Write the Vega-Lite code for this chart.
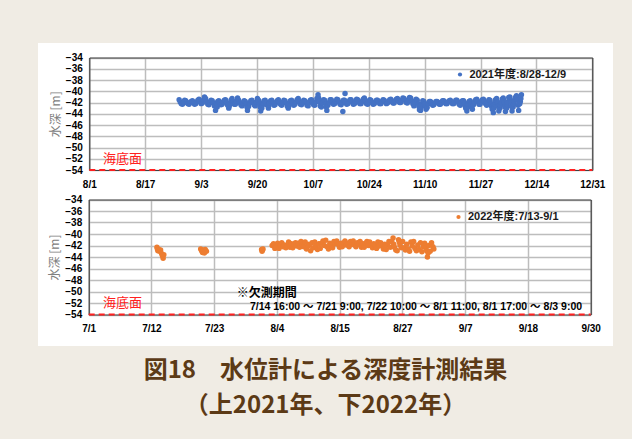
{
  "$schema": "https://vega.github.io/schema/vega-lite/v6.json",
  "background": "#f0ece4",
  "padding": {"left": 38, "top": 43, "right": 19, "bottom": 21},
  "autosize": {"type": "pad"},
  "spacing": 0,
  "bounds": "flush",
  "title": {
    "text": "図18　水位計による深度計測結果",
    "subtitle": "（上2021年、下2022年）",
    "orient": "bottom",
    "anchor": "middle",
    "font": "Noto Sans CJK JP",
    "fontSize": 24,
    "fontWeight": "bold",
    "color": "#5c3a16",
    "subtitleFont": "Noto Sans CJK JP",
    "subtitleFontSize": 24,
    "subtitleFontWeight": "bold",
    "subtitleColor": "#5c3a16",
    "subtitlePadding": 11,
    "offset": 13
  },
  "config": {
    "view": {"stroke": null, "fill": "white"},
    "font": "Liberation Sans, Noto Sans CJK JP",
    "axis": {
      "labelFont": "Liberation Sans",
      "labelFontWeight": "bold",
      "labelFontSize": 10,
      "labelColor": "#000000",
      "ticks": false,
      "gridColor": "#bdbdbd",
      "gridWidth": 1.5,
      "domainColor": "#404040",
      "domainWidth": 1.2,
      "labelOverlap": false,
      "labelFlush": false,
      "labelBound": false
    },
    "legend": {
      "orient": "none",
      "title": null,
      "symbolType": "circle",
      "symbolSize": 18,
      "symbolStrokeWidth": 0,
      "labelFont": "Liberation Sans, Noto Sans CJK JP",
      "labelFontSize": 11,
      "labelFontWeight": "bold",
      "labelColor": "#1a1a1a",
      "labelOffset": 4,
      "padding": 0
    }
  },
  "resolve": {
    "scale": {"x": "independent", "y": "independent", "color": "independent"},
    "legend": {"color": "independent"}
  },
  "datasets": {
    "y2021": [
      {"time":"2021-08-28T04:00","depth":-41.5},{"time":"2021-08-28T12:00","depth":-41.9},{"time":"2021-08-28T20:00","depth":-42.2},
      {"time":"2021-08-29T04:00","depth":-42.3},{"time":"2021-08-29T12:00","depth":-42.0},{"time":"2021-08-29T20:00","depth":-41.6},
      {"time":"2021-08-30T04:00","depth":-41.7},{"time":"2021-08-30T12:00","depth":-42.0},{"time":"2021-08-30T20:00","depth":-42.2},
      {"time":"2021-08-31T04:00","depth":-42.3},{"time":"2021-08-31T12:00","depth":-42.0},{"time":"2021-08-31T20:00","depth":-41.8},
      {"time":"2021-09-01T04:00","depth":-41.7},{"time":"2021-09-01T12:00","depth":-42.0},{"time":"2021-09-01T20:00","depth":-42.3},
      {"time":"2021-09-02T04:00","depth":-42.2},{"time":"2021-09-02T12:00","depth":-41.9},{"time":"2021-09-02T20:00","depth":-41.6},
      {"time":"2021-09-03T04:00","depth":-41.4},{"time":"2021-09-03T12:00","depth":-41.8},{"time":"2021-09-03T20:00","depth":-42.2},
      {"time":"2021-09-04T04:00","depth":-42.1},{"time":"2021-09-04T12:00","depth":-41.6},{"time":"2021-09-04T20:00","depth":-41.0},
      {"time":"2021-09-05T04:00","depth":-41.3},{"time":"2021-09-05T12:00","depth":-41.8},{"time":"2021-09-05T20:00","depth":-42.3},
      {"time":"2021-09-06T04:00","depth":-42.4},{"time":"2021-09-06T12:00","depth":-42.0},{"time":"2021-09-06T20:00","depth":-41.6},
      {"time":"2021-09-07T04:00","depth":-41.7},{"time":"2021-09-07T12:00","depth":-42.1},{"time":"2021-09-07T20:00","depth":-42.6},
      {"time":"2021-09-08T04:00","depth":-43.4},{"time":"2021-09-08T12:00","depth":-42.2},{"time":"2021-09-08T16:00","depth":-42.8},{"time":"2021-09-08T20:00","depth":-41.8},
      {"time":"2021-09-09T04:00","depth":-41.7},{"time":"2021-09-09T12:00","depth":-42.0},{"time":"2021-09-09T20:00","depth":-42.4},
      {"time":"2021-09-10T04:00","depth":-42.3},{"time":"2021-09-10T12:00","depth":-41.9},{"time":"2021-09-10T20:00","depth":-41.6},
      {"time":"2021-09-11T04:00","depth":-41.5},{"time":"2021-09-11T12:00","depth":-42.0},{"time":"2021-09-11T20:00","depth":-42.5},
      {"time":"2021-09-12T04:00","depth":-43.0},{"time":"2021-09-12T08:00","depth":-42.6},{"time":"2021-09-12T12:00","depth":-42.2},{"time":"2021-09-12T20:00","depth":-41.6},
      {"time":"2021-09-13T04:00","depth":-41.3},{"time":"2021-09-13T12:00","depth":-41.8},{"time":"2021-09-13T20:00","depth":-42.3},
      {"time":"2021-09-14T04:00","depth":-42.3},{"time":"2021-09-14T12:00","depth":-41.8},{"time":"2021-09-14T20:00","depth":-41.2},
      {"time":"2021-09-15T04:00","depth":-41.6},{"time":"2021-09-15T12:00","depth":-42.0},{"time":"2021-09-15T20:00","depth":-42.4},
      {"time":"2021-09-16T04:00","depth":-42.6},{"time":"2021-09-16T12:00","depth":-42.1},{"time":"2021-09-16T20:00","depth":-41.7},
      {"time":"2021-09-17T04:00","depth":-41.8},{"time":"2021-09-17T12:00","depth":-42.3},{"time":"2021-09-17T16:00","depth":-42.8},{"time":"2021-09-17T20:00","depth":-43.4},
      {"time":"2021-09-18T04:00","depth":-42.7},{"time":"2021-09-18T12:00","depth":-42.1},{"time":"2021-09-18T20:00","depth":-41.7},
      {"time":"2021-09-19T04:00","depth":-41.6},{"time":"2021-09-19T12:00","depth":-42.0},{"time":"2021-09-19T20:00","depth":-42.4},
      {"time":"2021-09-20T04:00","depth":-42.6},{"time":"2021-09-20T12:00","depth":-41.9},{"time":"2021-09-20T20:00","depth":-41.3},
      {"time":"2021-09-21T04:00","depth":-41.6},{"time":"2021-09-21T12:00","depth":-42.2},{"time":"2021-09-21T16:00","depth":-42.8},{"time":"2021-09-21T20:00","depth":-43.5},
      {"time":"2021-09-22T04:00","depth":-43.0},{"time":"2021-09-22T08:00","depth":-42.5},{"time":"2021-09-22T12:00","depth":-42.1},{"time":"2021-09-22T20:00","depth":-41.7},
      {"time":"2021-09-23T04:00","depth":-41.6},{"time":"2021-09-23T12:00","depth":-42.0},{"time":"2021-09-23T20:00","depth":-42.5},
      {"time":"2021-09-24T04:00","depth":-43.0},{"time":"2021-09-24T08:00","depth":-42.5},{"time":"2021-09-24T12:00","depth":-42.1},{"time":"2021-09-24T20:00","depth":-41.7},
      {"time":"2021-09-25T04:00","depth":-41.6},{"time":"2021-09-25T12:00","depth":-42.0},{"time":"2021-09-25T20:00","depth":-42.5},
      {"time":"2021-09-26T04:00","depth":-42.4},{"time":"2021-09-26T12:00","depth":-42.0},{"time":"2021-09-26T20:00","depth":-41.7},
      {"time":"2021-09-27T04:00","depth":-41.5},{"time":"2021-09-27T12:00","depth":-41.9},{"time":"2021-09-27T20:00","depth":-42.3},
      {"time":"2021-09-28T04:00","depth":-42.5},{"time":"2021-09-28T12:00","depth":-42.0},{"time":"2021-09-28T20:00","depth":-41.6},
      {"time":"2021-09-29T04:00","depth":-41.7},{"time":"2021-09-29T12:00","depth":-42.1},{"time":"2021-09-29T20:00","depth":-42.6},
      {"time":"2021-09-30T04:00","depth":-43.0},{"time":"2021-09-30T08:00","depth":-42.6},{"time":"2021-09-30T12:00","depth":-42.2},{"time":"2021-09-30T20:00","depth":-41.7},
      {"time":"2021-10-01T04:00","depth":-41.6},{"time":"2021-10-01T12:00","depth":-42.0},{"time":"2021-10-01T20:00","depth":-42.5},
      {"time":"2021-10-02T04:00","depth":-42.3},{"time":"2021-10-02T12:00","depth":-41.9},{"time":"2021-10-02T20:00","depth":-41.5},
      {"time":"2021-10-03T04:00","depth":-41.3},{"time":"2021-10-03T12:00","depth":-41.8},{"time":"2021-10-03T20:00","depth":-42.3},
      {"time":"2021-10-04T04:00","depth":-42.4},{"time":"2021-10-04T12:00","depth":-42.0},{"time":"2021-10-04T20:00","depth":-41.6},
      {"time":"2021-10-05T04:00","depth":-41.7},{"time":"2021-10-05T12:00","depth":-42.0},{"time":"2021-10-05T20:00","depth":-42.5},
      {"time":"2021-10-06T04:00","depth":-42.6},{"time":"2021-10-06T12:00","depth":-42.0},{"time":"2021-10-06T20:00","depth":-41.6},
      {"time":"2021-10-07T04:00","depth":-41.5},{"time":"2021-10-07T12:00","depth":-41.9},{"time":"2021-10-07T20:00","depth":-42.4},
      {"time":"2021-10-08T04:00","depth":-42.5},{"time":"2021-10-08T12:00","depth":-41.9},{"time":"2021-10-08T20:00","depth":-41.3},
      {"time":"2021-10-09T04:00","depth":-40.6},{"time":"2021-10-09T08:00","depth":-41.2},{"time":"2021-10-09T12:00","depth":-41.8},{"time":"2021-10-09T20:00","depth":-42.6},
      {"time":"2021-10-10T04:00","depth":-42.8},{"time":"2021-10-10T12:00","depth":-42.1},{"time":"2021-10-10T20:00","depth":-41.5},
      {"time":"2021-10-11T04:00","depth":-41.6},{"time":"2021-10-11T12:00","depth":-42.2},{"time":"2021-10-11T16:00","depth":-42.8},{"time":"2021-10-11T20:00","depth":-43.4},
      {"time":"2021-10-12T04:00","depth":-42.5},{"time":"2021-10-12T12:00","depth":-42.0},{"time":"2021-10-12T20:00","depth":-41.5},
      {"time":"2021-10-13T04:00","depth":-41.5},{"time":"2021-10-13T12:00","depth":-41.9},{"time":"2021-10-13T20:00","depth":-42.3},
      {"time":"2021-10-14T04:00","depth":-42.2},{"time":"2021-10-14T12:00","depth":-41.8},{"time":"2021-10-14T20:00","depth":-41.4},
      {"time":"2021-10-15T04:00","depth":-41.5},{"time":"2021-10-15T12:00","depth":-41.9},{"time":"2021-10-15T20:00","depth":-42.3},
      {"time":"2021-10-16T04:00","depth":-42.4},{"time":"2021-10-16T12:00","depth":-42.0},{"time":"2021-10-16T16:00","depth":-43.6},{"time":"2021-10-16T20:00","depth":-41.6},
      {"time":"2021-10-17T04:00","depth":-41.6},{"time":"2021-10-17T08:00","depth":-40.4},{"time":"2021-10-17T12:00","depth":-41.9},{"time":"2021-10-17T20:00","depth":-42.3},
      {"time":"2021-10-18T04:00","depth":-42.2},{"time":"2021-10-18T12:00","depth":-41.8},{"time":"2021-10-18T20:00","depth":-41.5},
      {"time":"2021-10-19T04:00","depth":-41.5},{"time":"2021-10-19T12:00","depth":-41.9},{"time":"2021-10-19T20:00","depth":-42.3},
      {"time":"2021-10-20T04:00","depth":-42.2},{"time":"2021-10-20T12:00","depth":-41.8},{"time":"2021-10-20T20:00","depth":-41.4},
      {"time":"2021-10-21T04:00","depth":-41.5},{"time":"2021-10-21T12:00","depth":-41.9},{"time":"2021-10-21T20:00","depth":-42.2},
      {"time":"2021-10-22T04:00","depth":-42.2},{"time":"2021-10-22T12:00","depth":-41.8},{"time":"2021-10-22T20:00","depth":-41.4},
      {"time":"2021-10-23T04:00","depth":-41.2},{"time":"2021-10-23T12:00","depth":-41.7},{"time":"2021-10-23T20:00","depth":-42.2},
      {"time":"2021-10-24T04:00","depth":-42.3},{"time":"2021-10-24T12:00","depth":-41.9},{"time":"2021-10-24T20:00","depth":-41.5},
      {"time":"2021-10-25T04:00","depth":-41.6},{"time":"2021-10-25T12:00","depth":-42.0},{"time":"2021-10-25T20:00","depth":-42.3},
      {"time":"2021-10-26T04:00","depth":-42.2},{"time":"2021-10-26T12:00","depth":-41.9},{"time":"2021-10-26T20:00","depth":-41.6},
      {"time":"2021-10-27T04:00","depth":-41.6},{"time":"2021-10-27T12:00","depth":-41.9},{"time":"2021-10-27T20:00","depth":-42.2},
      {"time":"2021-10-28T04:00","depth":-42.2},{"time":"2021-10-28T12:00","depth":-41.8},{"time":"2021-10-28T20:00","depth":-41.5},
      {"time":"2021-10-29T04:00","depth":-41.6},{"time":"2021-10-29T12:00","depth":-41.9},{"time":"2021-10-29T20:00","depth":-42.2},
      {"time":"2021-10-30T04:00","depth":-42.1},{"time":"2021-10-30T12:00","depth":-41.8},{"time":"2021-10-30T20:00","depth":-41.5},
      {"time":"2021-10-31T04:00","depth":-41.4},{"time":"2021-10-31T12:00","depth":-41.8},{"time":"2021-10-31T20:00","depth":-42.1},
      {"time":"2021-11-01T04:00","depth":-42.1},{"time":"2021-11-01T12:00","depth":-41.7},{"time":"2021-11-01T20:00","depth":-41.4},
      {"time":"2021-11-02T04:00","depth":-41.3},{"time":"2021-11-02T12:00","depth":-41.7},{"time":"2021-11-02T20:00","depth":-42.0},
      {"time":"2021-11-03T04:00","depth":-42.0},{"time":"2021-11-03T12:00","depth":-41.6},{"time":"2021-11-03T20:00","depth":-41.2},
      {"time":"2021-11-04T04:00","depth":-41.3},{"time":"2021-11-04T12:00","depth":-41.6},{"time":"2021-11-04T20:00","depth":-42.0},
      {"time":"2021-11-05T04:00","depth":-42.1},{"time":"2021-11-05T12:00","depth":-41.6},{"time":"2021-11-05T20:00","depth":-41.1},
      {"time":"2021-11-06T04:00","depth":-41.2},{"time":"2021-11-06T12:00","depth":-41.7},{"time":"2021-11-06T20:00","depth":-42.2},
      {"time":"2021-11-07T04:00","depth":-42.6},{"time":"2021-11-07T12:00","depth":-41.9},{"time":"2021-11-07T20:00","depth":-41.4},
      {"time":"2021-11-08T04:00","depth":-41.6},{"time":"2021-11-08T12:00","depth":-42.2},{"time":"2021-11-08T16:00","depth":-42.7},{"time":"2021-11-08T20:00","depth":-43.3},
      {"time":"2021-11-09T04:00","depth":-43.4},{"time":"2021-11-09T08:00","depth":-42.8},{"time":"2021-11-09T12:00","depth":-42.3},{"time":"2021-11-09T20:00","depth":-41.7},
      {"time":"2021-11-10T04:00","depth":-41.8},{"time":"2021-11-10T12:00","depth":-42.2},{"time":"2021-11-10T16:00","depth":-42.7},{"time":"2021-11-10T20:00","depth":-43.2},
      {"time":"2021-11-11T04:00","depth":-42.9},{"time":"2021-11-11T12:00","depth":-42.2},{"time":"2021-11-11T20:00","depth":-41.8},
      {"time":"2021-11-12T04:00","depth":-41.8},{"time":"2021-11-12T12:00","depth":-42.1},{"time":"2021-11-12T20:00","depth":-42.5},
      {"time":"2021-11-13T04:00","depth":-42.4},{"time":"2021-11-13T12:00","depth":-42.1},{"time":"2021-11-13T20:00","depth":-41.8},
      {"time":"2021-11-14T04:00","depth":-41.8},{"time":"2021-11-14T12:00","depth":-42.0},{"time":"2021-11-14T20:00","depth":-42.3},
      {"time":"2021-11-15T04:00","depth":-42.3},{"time":"2021-11-15T12:00","depth":-42.0},{"time":"2021-11-15T20:00","depth":-41.7},
      {"time":"2021-11-16T04:00","depth":-41.7},{"time":"2021-11-16T12:00","depth":-42.0},{"time":"2021-11-16T20:00","depth":-42.2},
      {"time":"2021-11-17T04:00","depth":-42.2},{"time":"2021-11-17T12:00","depth":-41.9},{"time":"2021-11-17T20:00","depth":-41.7},
      {"time":"2021-11-18T04:00","depth":-41.6},{"time":"2021-11-18T12:00","depth":-41.9},{"time":"2021-11-18T20:00","depth":-42.2},
      {"time":"2021-11-19T04:00","depth":-42.2},{"time":"2021-11-19T12:00","depth":-41.9},{"time":"2021-11-19T20:00","depth":-41.6},
      {"time":"2021-11-20T04:00","depth":-41.6},{"time":"2021-11-20T12:00","depth":-41.9},{"time":"2021-11-20T20:00","depth":-42.3},
      {"time":"2021-11-21T04:00","depth":-42.5},{"time":"2021-11-21T12:00","depth":-42.0},{"time":"2021-11-21T20:00","depth":-41.7},
      {"time":"2021-11-22T04:00","depth":-41.7},{"time":"2021-11-22T12:00","depth":-42.1},{"time":"2021-11-22T16:00","depth":-42.6},{"time":"2021-11-22T20:00","depth":-43.0},
      {"time":"2021-11-23T04:00","depth":-43.5},{"time":"2021-11-23T08:00","depth":-42.9},{"time":"2021-11-23T12:00","depth":-42.3},{"time":"2021-11-23T20:00","depth":-41.8},
      {"time":"2021-11-24T04:00","depth":-41.7},{"time":"2021-11-24T12:00","depth":-42.2},{"time":"2021-11-24T16:00","depth":-42.7},{"time":"2021-11-24T20:00","depth":-43.2},
      {"time":"2021-11-25T04:00","depth":-42.4},{"time":"2021-11-25T12:00","depth":-41.9},{"time":"2021-11-25T20:00","depth":-41.5},
      {"time":"2021-11-26T04:00","depth":-41.4},{"time":"2021-11-26T12:00","depth":-41.8},{"time":"2021-11-26T20:00","depth":-42.3},
      {"time":"2021-11-27T04:00","depth":-42.3},{"time":"2021-11-27T12:00","depth":-41.9},{"time":"2021-11-27T20:00","depth":-41.5},
      {"time":"2021-11-28T04:00","depth":-41.4},{"time":"2021-11-28T12:00","depth":-41.8},{"time":"2021-11-28T20:00","depth":-42.2},
      {"time":"2021-11-29T04:00","depth":-42.5},{"time":"2021-11-29T12:00","depth":-41.9},{"time":"2021-11-29T20:00","depth":-41.5},
      {"time":"2021-11-30T04:00","depth":-41.6},{"time":"2021-11-30T12:00","depth":-42.2},{"time":"2021-11-30T16:00","depth":-42.7},{"time":"2021-11-30T20:00","depth":-43.2},
      {"time":"2021-12-01T04:00","depth":-43.8},{"time":"2021-12-01T08:00","depth":-43.0},{"time":"2021-12-01T12:00","depth":-42.3},{"time":"2021-12-01T16:00","depth":-41.9},{"time":"2021-12-01T20:00","depth":-41.5},
      {"time":"2021-12-02T04:00","depth":-41.3},{"time":"2021-12-02T12:00","depth":-42.0},{"time":"2021-12-02T16:00","depth":-42.7},{"time":"2021-12-02T20:00","depth":-43.5},
      {"time":"2021-12-03T04:00","depth":-43.0},{"time":"2021-12-03T08:00","depth":-42.5},{"time":"2021-12-03T12:00","depth":-42.0},{"time":"2021-12-03T20:00","depth":-41.4},
      {"time":"2021-12-04T04:00","depth":-41.2},{"time":"2021-12-04T08:00","depth":-41.6},{"time":"2021-12-04T12:00","depth":-42.1},{"time":"2021-12-04T16:00","depth":-42.8},{"time":"2021-12-04T20:00","depth":-43.6},
      {"time":"2021-12-05T04:00","depth":-43.0},{"time":"2021-12-05T08:00","depth":-42.4},{"time":"2021-12-05T12:00","depth":-41.9},{"time":"2021-12-05T20:00","depth":-41.1},
      {"time":"2021-12-06T04:00","depth":-41.0},{"time":"2021-12-06T08:00","depth":-41.5},{"time":"2021-12-06T12:00","depth":-42.0},{"time":"2021-12-06T16:00","depth":-42.7},{"time":"2021-12-06T20:00","depth":-43.5},
      {"time":"2021-12-07T04:00","depth":-42.8},{"time":"2021-12-07T08:00","depth":-42.3},{"time":"2021-12-07T12:00","depth":-41.8},{"time":"2021-12-07T20:00","depth":-41.1},
      {"time":"2021-12-08T04:00","depth":-40.8},{"time":"2021-12-08T08:00","depth":-41.2},{"time":"2021-12-08T12:00","depth":-41.6},{"time":"2021-12-08T16:00","depth":-42.5},{"time":"2021-12-08T20:00","depth":-43.4},
      {"time":"2021-12-09T04:00","depth":-42.2},{"time":"2021-12-09T08:00","depth":-41.8},{"time":"2021-12-09T12:00","depth":-41.3},{"time":"2021-12-09T16:00","depth":-40.6}
    ],
    "y2022": [
      {"time":"2022-07-13T10:00","depth":-42.3},{"time":"2022-07-13T12:00","depth":-42.6},{"time":"2022-07-13T14:00","depth":-42.9},{"time":"2022-07-13T18:00","depth":-42.7},{"time":"2022-07-13T22:00","depth":-43.0},
      {"time":"2022-07-14T02:00","depth":-42.8},{"time":"2022-07-14T06:00","depth":-43.4},{"time":"2022-07-14T10:00","depth":-43.8},{"time":"2022-07-14T13:00","depth":-44.2},{"time":"2022-07-14T16:00","depth":-43.6},
      {"time":"2022-07-21T09:00","depth":-42.6},{"time":"2022-07-21T13:00","depth":-42.9},{"time":"2022-07-21T17:00","depth":-43.2},{"time":"2022-07-21T21:00","depth":-42.8},
      {"time":"2022-07-22T01:00","depth":-43.3},{"time":"2022-07-22T05:00","depth":-42.7},{"time":"2022-07-22T10:00","depth":-43.0},
      {"time":"2022-08-01T11:00","depth":-42.7},{"time":"2022-08-01T13:00","depth":-43.0},{"time":"2022-08-01T15:00","depth":-42.8},{"time":"2022-08-01T17:00","depth":-42.6},
      {"time":"2022-08-03T09:00","depth":-42.0},{"time":"2022-08-03T15:00","depth":-41.7},{"time":"2022-08-03T21:00","depth":-42.5},
      {"time":"2022-08-04T03:00","depth":-42.3},{"time":"2022-08-04T09:00","depth":-41.6},{"time":"2022-08-04T15:00","depth":-42.5},{"time":"2022-08-04T21:00","depth":-41.9},
      {"time":"2022-08-05T03:00","depth":-41.5},{"time":"2022-08-05T09:00","depth":-42.2},{"time":"2022-08-05T15:00","depth":-41.9},{"time":"2022-08-05T21:00","depth":-42.4},
      {"time":"2022-08-06T03:00","depth":-42.0},{"time":"2022-08-06T09:00","depth":-41.4},{"time":"2022-08-06T15:00","depth":-42.3},{"time":"2022-08-06T21:00","depth":-41.7},
      {"time":"2022-08-07T03:00","depth":-42.4},{"time":"2022-08-07T09:00","depth":-41.8},{"time":"2022-08-07T15:00","depth":-41.5},{"time":"2022-08-07T21:00","depth":-42.1},
      {"time":"2022-08-08T03:00","depth":-41.6},{"time":"2022-08-08T09:00","depth":-42.3},{"time":"2022-08-08T15:00","depth":-41.3},{"time":"2022-08-08T21:00","depth":-41.9},
      {"time":"2022-08-09T03:00","depth":-42.2},{"time":"2022-08-09T09:00","depth":-41.4},{"time":"2022-08-09T15:00","depth":-42.6},{"time":"2022-08-09T21:00","depth":-41.8},
      {"time":"2022-08-10T03:00","depth":-42.0},{"time":"2022-08-10T09:00","depth":-42.9},{"time":"2022-08-10T15:00","depth":-41.5},{"time":"2022-08-10T21:00","depth":-42.4},
      {"time":"2022-08-11T03:00","depth":-41.4},{"time":"2022-08-11T09:00","depth":-42.1},{"time":"2022-08-11T15:00","depth":-42.7},{"time":"2022-08-11T21:00","depth":-41.7},
      {"time":"2022-08-12T03:00","depth":-42.5},{"time":"2022-08-12T09:00","depth":-41.6},{"time":"2022-08-12T15:00","depth":-41.2},{"time":"2022-08-12T21:00","depth":-42.0},
      {"time":"2022-08-13T03:00","depth":-41.1},{"time":"2022-08-13T09:00","depth":-42.2},{"time":"2022-08-13T15:00","depth":-42.6},{"time":"2022-08-13T21:00","depth":-41.6},
      {"time":"2022-08-14T03:00","depth":-41.9},{"time":"2022-08-14T09:00","depth":-42.4},{"time":"2022-08-14T15:00","depth":-41.3},{"time":"2022-08-14T21:00","depth":-41.7},
      {"time":"2022-08-15T03:00","depth":-41.2},{"time":"2022-08-15T09:00","depth":-41.8},{"time":"2022-08-15T15:00","depth":-42.3},{"time":"2022-08-15T21:00","depth":-41.6},
      {"time":"2022-08-16T03:00","depth":-42.2},{"time":"2022-08-16T09:00","depth":-41.5},{"time":"2022-08-16T15:00","depth":-41.2},{"time":"2022-08-16T21:00","depth":-41.9},
      {"time":"2022-08-17T03:00","depth":-41.6},{"time":"2022-08-17T09:00","depth":-42.2},{"time":"2022-08-17T15:00","depth":-41.3},{"time":"2022-08-17T21:00","depth":-41.8},
      {"time":"2022-08-18T03:00","depth":-41.2},{"time":"2022-08-18T09:00","depth":-41.9},{"time":"2022-08-18T15:00","depth":-42.2},{"time":"2022-08-18T21:00","depth":-41.5},
      {"time":"2022-08-19T03:00","depth":-41.8},{"time":"2022-08-19T09:00","depth":-41.3},{"time":"2022-08-19T15:00","depth":-42.3},{"time":"2022-08-19T21:00","depth":-41.7},
      {"time":"2022-08-20T03:00","depth":-42.3},{"time":"2022-08-20T09:00","depth":-41.6},{"time":"2022-08-20T15:00","depth":-41.3},{"time":"2022-08-20T21:00","depth":-42.0},
      {"time":"2022-08-21T03:00","depth":-41.4},{"time":"2022-08-21T09:00","depth":-42.0},{"time":"2022-08-21T15:00","depth":-42.4},{"time":"2022-08-21T21:00","depth":-41.7},
      {"time":"2022-08-22T03:00","depth":-41.9},{"time":"2022-08-22T09:00","depth":-42.5},{"time":"2022-08-22T15:00","depth":-41.4},{"time":"2022-08-22T21:00","depth":-42.1},
      {"time":"2022-08-23T03:00","depth":-41.5},{"time":"2022-08-23T09:00","depth":-42.0},{"time":"2022-08-23T15:00","depth":-42.6},{"time":"2022-08-23T21:00","depth":-41.8},
      {"time":"2022-08-24T03:00","depth":-42.7},{"time":"2022-08-24T09:00","depth":-41.9},{"time":"2022-08-24T15:00","depth":-41.3},{"time":"2022-08-24T21:00","depth":-42.3},
      {"time":"2022-08-25T03:00","depth":-41.3},{"time":"2022-08-25T09:00","depth":-40.7},{"time":"2022-08-25T12:00","depth":-41.8},{"time":"2022-08-25T15:00","depth":-42.3},{"time":"2022-08-25T21:00","depth":-42.8},
      {"time":"2022-08-26T03:00","depth":-42.9},{"time":"2022-08-26T09:00","depth":-41.0},{"time":"2022-08-26T12:00","depth":-41.4},{"time":"2022-08-26T15:00","depth":-41.9},{"time":"2022-08-26T21:00","depth":-42.4},
      {"time":"2022-08-27T03:00","depth":-41.3},{"time":"2022-08-27T09:00","depth":-42.4},{"time":"2022-08-27T15:00","depth":-42.8},{"time":"2022-08-27T21:00","depth":-41.8},
      {"time":"2022-08-28T03:00","depth":-42.6},{"time":"2022-08-28T09:00","depth":-43.0},{"time":"2022-08-28T15:00","depth":-41.4},{"time":"2022-08-28T21:00","depth":-42.1},
      {"time":"2022-08-29T03:00","depth":-41.3},{"time":"2022-08-29T09:00","depth":-42.5},{"time":"2022-08-29T15:00","depth":-42.9},{"time":"2022-08-29T21:00","depth":-41.9},
      {"time":"2022-08-30T03:00","depth":-42.7},{"time":"2022-08-30T09:00","depth":-41.5},{"time":"2022-08-30T15:00","depth":-43.1},{"time":"2022-08-30T21:00","depth":-42.2},
      {"time":"2022-08-31T03:00","depth":-41.6},{"time":"2022-08-31T09:00","depth":-42.4},{"time":"2022-08-31T12:00","depth":-42.9},{"time":"2022-08-31T15:00","depth":-44.0},{"time":"2022-08-31T18:00","depth":-43.3},{"time":"2022-08-31T21:00","depth":-42.0},
      {"time":"2022-09-01T03:00","depth":-43.0},{"time":"2022-09-01T09:00","depth":-41.5},{"time":"2022-09-01T15:00","depth":-42.2},{"time":"2022-09-01T19:00","depth":-42.6}
    ]
  },
  "vconcat": [
    {
      "width": 575,
      "height": 149,
      "layer": [
        {
          "data": {"name": "y2021"},
          "mark": {"type": "circle", "size": 30, "opacity": 1},
          "encoding": {
            "x": {
              "field": "time", "type": "temporal",
              "scale": {"domain": [{"year": 2021, "month": 8, "date": 1}, {"year": 2021, "month": 12, "date": 31, "hours": 2, "minutes": 24}], "range": [51.3, 554.3], "nice": false},
              "axis": {
                "orient": "top", "offset": -14.5, "labels": false, "grid": true, "domain": true, "title": null,
                "values": [
                  {"year": 2021, "month": 8, "date": 1},
                  {"year": 2021, "month": 8, "date": 17, "hours": 21, "minutes": 36},
                  {"year": 2021, "month": 9, "date": 3, "hours": 19, "minutes": 12},
                  {"year": 2021, "month": 9, "date": 20, "hours": 16, "minutes": 48},
                  {"year": 2021, "month": 10, "date": 7, "hours": 14, "minutes": 24},
                  {"year": 2021, "month": 10, "date": 24, "hours": 12},
                  {"year": 2021, "month": 11, "date": 10, "hours": 9, "minutes": 36},
                  {"year": 2021, "month": 11, "date": 27, "hours": 7, "minutes": 12},
                  {"year": 2021, "month": 12, "date": 14, "hours": 4, "minutes": 48},
                  {"year": 2021, "month": 12, "date": 31, "hours": 2, "minutes": 24}
                ]
              }
            },
            "y": {
              "field": "depth", "type": "quantitative",
              "scale": {"domain": [-54, -34], "range": [127, 14.5], "nice": false, "zero": false},
              "axis": {
                "orient": "left", "offset": -51.3, "grid": true, "domain": true,
                "values": [-54, -52, -50, -48, -46, -44, -42, -40, -38, -36, -34],
                "labelPadding": 7,
                "title": "水深 [m]",
                "titleFont": "Noto Sans CJK JP", "titleFontWeight": "normal", "titleFontSize": 12,
                "titleColor": "#808080", "titlePadding": 3
              }
            },
            "color": {
              "datum": "2021年度:8/28-12/9", "type": "nominal",
              "scale": {"range": ["#4472c4"]},
              "legend": {"legendX": 416.5, "legendY": 26}
            }
          }
        },
        {
          "data": {"values": [{}]},
          "mark": {"type": "rule", "color": "#ff2020", "strokeWidth": 2, "strokeDash": [6, 4]},
          "encoding": {
            "x": {
              "datum": {"year": 2021, "month": 8, "date": 1}, "type": "temporal",
              "scale": {"domain": [{"year": 2021, "month": 8, "date": 1}, {"year": 2021, "month": 12, "date": 31, "hours": 2, "minutes": 24}], "range": [51.3, 554.3], "nice": false},
              "axis": {
                "orient": "bottom", "offset": -22, "grid": false, "domain": true, "title": null,
                "format": "%-m/%-d", "labelPadding": 9,
                "values": [
                  {"year": 2021, "month": 8, "date": 1},
                  {"year": 2021, "month": 8, "date": 17, "hours": 21, "minutes": 36},
                  {"year": 2021, "month": 9, "date": 3, "hours": 19, "minutes": 12},
                  {"year": 2021, "month": 9, "date": 20, "hours": 16, "minutes": 48},
                  {"year": 2021, "month": 10, "date": 7, "hours": 14, "minutes": 24},
                  {"year": 2021, "month": 10, "date": 24, "hours": 12},
                  {"year": 2021, "month": 11, "date": 10, "hours": 9, "minutes": 36},
                  {"year": 2021, "month": 11, "date": 27, "hours": 7, "minutes": 12},
                  {"year": 2021, "month": 12, "date": 14, "hours": 4, "minutes": 48},
                  {"year": 2021, "month": 12, "date": 31, "hours": 2, "minutes": 24}
                ]
              }
            },
            "x2": {"datum": {"year": 2021, "month": 12, "date": 31, "hours": 2, "minutes": 24}},
            "y": {
              "datum": -54, "type": "quantitative",
              "scale": {"domain": [-54, -34], "range": [127, 14.5], "nice": false, "zero": false},
              "axis": {"orient": "right", "offset": -20.7, "grid": false, "labels": false, "domain": true, "title": null}
            }
          }
        },
        {
          "data": {"values": [{}]},
          "mark": {"type": "text", "text": "海底面", "color": "#ff2020", "font": "Noto Sans CJK JP", "fontSize": 13, "align": "left", "baseline": "middle"},
          "encoding": {
            "x": {"datum": {"year": 2021, "month": 8, "date": 5, "hours": 3}, "type": "temporal", "axis": null},
            "y": {"datum": -52, "type": "quantitative", "axis": null}
          }
        }
      ],
      "resolve": {"axis": {"x": "independent", "y": "independent"}}
    },
    {
      "width": 575,
      "height": 154,
      "layer": [
        {
          "data": {"name": "y2022"},
          "mark": {"type": "circle", "size": 30, "opacity": 1},
          "encoding": {
            "x": {
              "field": "time", "type": "temporal",
              "scale": {"domain": [{"year": 2022, "month": 7, "date": 1}, {"year": 2022, "month": 9, "date": 30, "hours": 8}], "range": [50.7, 552.7], "nice": false},
              "axis": {
                "orient": "top", "offset": -7.5, "labels": false, "grid": true, "domain": true, "title": null,
                "values": [
                  {"year": 2022, "month": 7, "date": 1},
                  {"year": 2022, "month": 7, "date": 12, "hours": 10},
                  {"year": 2022, "month": 7, "date": 23, "hours": 20},
                  {"year": 2022, "month": 8, "date": 4, "hours": 6},
                  {"year": 2022, "month": 8, "date": 15, "hours": 16},
                  {"year": 2022, "month": 8, "date": 27, "hours": 2},
                  {"year": 2022, "month": 9, "date": 7, "hours": 12},
                  {"year": 2022, "month": 9, "date": 18, "hours": 22},
                  {"year": 2022, "month": 9, "date": 30, "hours": 8}
                ]
              }
            },
            "y": {
              "field": "depth", "type": "quantitative",
              "scale": {"domain": [-54, -34], "range": [122.5, 7.5], "nice": false, "zero": false},
              "axis": {
                "orient": "left", "offset": -50.7, "grid": true, "domain": true,
                "values": [-54, -52, -50, -48, -46, -44, -42, -40, -38, -36, -34],
                "labelPadding": 7,
                "title": "水深 [m]",
                "titleFont": "Noto Sans CJK JP", "titleFontWeight": "normal", "titleFontSize": 12,
                "titleColor": "#808080", "titlePadding": 3
              }
            },
            "color": {
              "datum": "2022年度:7/13-9/1", "type": "nominal",
              "scale": {"range": ["#ed7d31"]},
              "legend": {"legendX": 415, "legendY": 19.5}
            }
          }
        },
        {
          "data": {"values": [{}]},
          "mark": {"type": "rule", "color": "#ff2020", "strokeWidth": 2, "strokeDash": [6, 4]},
          "encoding": {
            "x": {
              "datum": {"year": 2022, "month": 7, "date": 1}, "type": "temporal",
              "scale": {"domain": [{"year": 2022, "month": 7, "date": 1}, {"year": 2022, "month": 9, "date": 30, "hours": 8}], "range": [50.7, 552.7], "nice": false},
              "axis": {
                "orient": "bottom", "offset": -31.5, "grid": false, "domain": true, "title": null,
                "format": "%-m/%-d", "labelPadding": 9,
                "values": [
                  {"year": 2022, "month": 7, "date": 1},
                  {"year": 2022, "month": 7, "date": 12, "hours": 10},
                  {"year": 2022, "month": 7, "date": 23, "hours": 20},
                  {"year": 2022, "month": 8, "date": 4, "hours": 6},
                  {"year": 2022, "month": 8, "date": 15, "hours": 16},
                  {"year": 2022, "month": 8, "date": 27, "hours": 2},
                  {"year": 2022, "month": 9, "date": 7, "hours": 12},
                  {"year": 2022, "month": 9, "date": 18, "hours": 22},
                  {"year": 2022, "month": 9, "date": 30, "hours": 8}
                ]
              }
            },
            "x2": {"datum": {"year": 2022, "month": 9, "date": 30, "hours": 8}},
            "y": {
              "datum": -54, "type": "quantitative",
              "scale": {"domain": [-54, -34], "range": [122.5, 7.5], "nice": false, "zero": false},
              "axis": {"orient": "right", "offset": -22.3, "grid": false, "labels": false, "domain": true, "title": null}
            }
          }
        },
        {
          "data": {"values": [{}]},
          "mark": {"type": "text", "text": "海底面", "color": "#ff2020", "font": "Noto Sans CJK JP", "fontSize": 13, "align": "left", "baseline": "middle"},
          "encoding": {
            "x": {"datum": {"year": 2022, "month": 7, "date": 3, "hours": 14}, "type": "temporal", "axis": null},
            "y": {"datum": -52, "type": "quantitative", "axis": null}
          }
        },
        {
          "data": {"values": [{}]},
          "mark": {"type": "text", "text": "※欠測期間", "color": "#000000", "font": "Noto Sans CJK JP", "fontWeight": "bold", "fontSize": 12, "align": "left", "baseline": "middle"},
          "encoding": {
            "x": {"datum": {"year": 2022, "month": 7, "date": 27, "hours": 22}, "type": "temporal", "axis": null},
            "y": {"datum": -50.3, "type": "quantitative", "axis": null}
          }
        },
        {
          "data": {"values": [{}]},
          "mark": {"type": "text", "text": "7/14 16:00 〜 7/21 9:00, 7/22 10:00 〜 8/1 11:00, 8/1 17:00 〜 8/3 9:00", "color": "#000000", "font": "Liberation Sans, Noto Sans CJK JP", "fontWeight": "bold", "fontSize": 10.5, "align": "left", "baseline": "middle"},
          "encoding": {
            "x": {"datum": {"year": 2022, "month": 7, "date": 30, "hours": 8}, "type": "temporal", "axis": null},
            "y": {"datum": -52.64, "type": "quantitative", "axis": null}
          }
        }
      ],
      "resolve": {"axis": {"x": "independent", "y": "independent"}}
    }
  ]
}
